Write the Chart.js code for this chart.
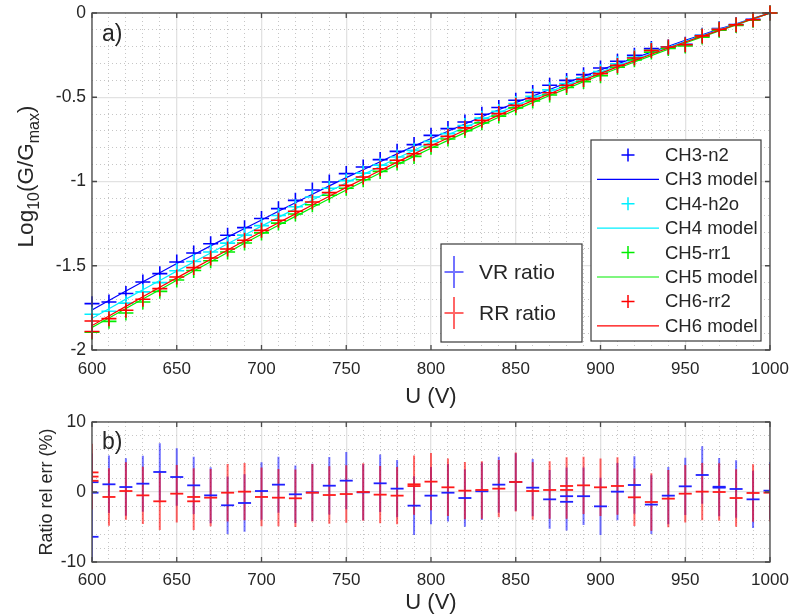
<!DOCTYPE html>
<html>
<head>
<meta charset="utf-8">
<script src="https://cdn.jsdelivr.net/npm/chart.js@4.4.1/dist/chart.umd.min.js"></script>
<style>
  body { margin: 0; background: #fff; }
  #wrap { position: relative; width: 792px; height: 616px; }
  #top { position: absolute; left: 0; top: 0; }
  #bot { position: absolute; left: 0; top: 410px; }
</style>
</head>
<body>
<div id="wrap">
  <canvas id="top" width="792" height="410" style="width:792px;height:410px"></canvas>
  <canvas id="bot" width="792" height="206" style="width:792px;height:206px"></canvas>
</div>
<script>
// ---- data ----
const voltages = [600, 610, 620, 630, 640, 650, 660, 670, 680, 690, 700, 710, 720, 730, 740, 750, 760, 770, 780, 790,
  800, 810, 820, 830, 840, 850, 860, 870, 880, 890, 900, 910, 920, 930, 940, 950, 960, 970, 980, 990, 1000];

const channelNames = ['CH3-n2', 'CH4-h2o', 'CH5-rr1', 'CH6-rr2'];
const modelNames = ['CH3 model', 'CH4 model', 'CH5 model', 'CH6 model'];

// log10(G/Gmax), measured
const ch3 = [-1.725, -1.715, -1.665, -1.596, -1.547, -1.478, -1.424, -1.369, -1.319, -1.274, -1.220, -1.161, -1.112, -1.050,
  -1.003, -0.953, -0.914, -0.870, -0.821, -0.781, -0.726, -0.686, -0.647, -0.601, -0.561, -0.518, -0.472, -0.429, -0.400,
  -0.366, -0.326, -0.286, -0.251, -0.211, -0.202, -0.186, -0.132, -0.093, -0.068, -0.038, 0];
const ch4 = [-1.788, -1.770, -1.722, -1.655, -1.600, -1.530, -1.475, -1.418, -1.366, -1.318, -1.262, -1.202, -1.150, -1.092,
  -1.040, -0.995, -0.950, -0.903, -0.855, -0.815, -0.762, -0.716, -0.668, -0.624, -0.584, -0.537, -0.494, -0.456, -0.418,
  -0.384, -0.348, -0.301, -0.262, -0.218, -0.204, -0.190, -0.134, -0.095, -0.070, -0.040, 0];
const ch5 = [-1.895, -1.830, -1.780, -1.715, -1.652, -1.585, -1.528, -1.470, -1.418, -1.365, -1.305, -1.247, -1.193, -1.138,
  -1.082, -1.040, -0.990, -0.940, -0.890, -0.851, -0.797, -0.748, -0.698, -0.652, -0.612, -0.563, -0.522, -0.487, -0.442,
  -0.407, -0.372, -0.322, -0.278, -0.232, -0.211, -0.196, -0.143, -0.102, -0.074, -0.043, 0];
const ch6 = [-1.828, -1.814, -1.764, -1.699, -1.636, -1.567, -1.511, -1.454, -1.401, -1.349, -1.290, -1.230, -1.177, -1.122,
  -1.066, -1.023, -0.973, -0.924, -0.874, -0.835, -0.781, -0.732, -0.682, -0.637, -0.597, -0.548, -0.508, -0.473, -0.429,
  -0.394, -0.360, -0.311, -0.267, -0.222, -0.202, -0.188, -0.136, -0.097, -0.070, -0.040, 0];
// second CH6 reading at 600 V
const ch6ExtraU = [600];
const ch6Extra = [-1.890];

// model curves
const ch3Model = [-1.762, -1.706, -1.650, -1.595, -1.541, -1.487, -1.435, -1.382, -1.330, -1.279, -1.228, -1.177, -1.126,
  -1.076, -1.026, -0.977, -0.930, -0.883, -0.836, -0.790, -0.745, -0.702, -0.659, -0.616, -0.574, -0.532, -0.493, -0.454,
  -0.415, -0.376, -0.338, -0.302, -0.267, -0.232, -0.197, -0.162, -0.129, -0.096, -0.064, -0.032, 0];
const ch4Model = [-1.812, -1.755, -1.698, -1.642, -1.587, -1.532, -1.478, -1.424, -1.370, -1.317, -1.265, -1.213, -1.161,
  -1.110, -1.059, -1.008, -0.959, -0.910, -0.862, -0.815, -0.768, -0.723, -0.679, -0.635, -0.592, -0.549, -0.508, -0.468,
  -0.428, -0.389, -0.350, -0.313, -0.276, -0.240, -0.204, -0.168, -0.134, -0.100, -0.066, -0.033, 0];
const ch5Model = [-1.866, -1.810, -1.754, -1.697, -1.642, -1.586, -1.531, -1.476, -1.421, -1.367, -1.313, -1.260, -1.207,
  -1.154, -1.102, -1.050, -1.000, -0.950, -0.900, -0.851, -0.803, -0.756, -0.710, -0.664, -0.619, -0.575, -0.532, -0.490,
  -0.449, -0.408, -0.368, -0.329, -0.291, -0.253, -0.215, -0.178, -0.142, -0.106, -0.071, -0.035, 0];
const ch6Model = [-1.855, -1.798, -1.741, -1.684, -1.628, -1.572, -1.517, -1.462, -1.407, -1.352, -1.298, -1.245, -1.192,
  -1.139, -1.087, -1.035, -0.985, -0.935, -0.885, -0.836, -0.788, -0.742, -0.696, -0.651, -0.606, -0.562, -0.520, -0.479,
  -0.438, -0.398, -0.358, -0.320, -0.283, -0.245, -0.208, -0.172, -0.137, -0.103, -0.068, -0.034, 0];

// ratio relative error (%)
const ratioNames = ['VR ratio', 'RR ratio'];
const vrRatio = [1.40, 1.10, 0.71, 1.19, 2.86, 2.14, 0.95, -0.48, -1.90, -1.57, 0.14, 1.05, -0.33, -0.05, 0.90, 1.62, -0.05,
  1.24, 0.48, -1.95, -0.52, -0.10, -0.86, 0.10, 1.05, 1.43, 0.62, -1.05, -0.60, -0.60, -2.05, 0.05, 1.00, -1.80, -0.52,
  0.81, 2.43, 0.62, 0.43, -1.05, 0.19];
const rrRatio = [2.80, -0.71, 0.14, -0.48, -1.33, -0.24, -0.71, -0.81, -0.10, 0.05, -0.71, -0.81, -0.90, -0.10, -0.43, -0.29,
  0.00, -0.38, -0.52, 1.10, 1.48, 0.67, 0.19, 0.29, 0.48, 1.43, 0.14, 0.29, 0.86, 0.95, 0.67, 0.86, -0.76, -1.43, -0.95,
  -0.24, 0.05, 0.00, -0.86, -0.14, -0.10];
const vrErr = [4.1, 4.1, 4.1, 4.0, 4.1, 4.1, 4.1, 4.0, 4.1, 4.1, 4.1, 4.0, 4.1, 4.1, 4.1, 4.1, 4.0, 4.1, 4.1, 4.2, 4.1, 4.1,
  4.1, 4.1, 4.0, 4.1, 4.1, 4.2, 4.1, 4.1, 4.1, 4.1, 4.1, 4.2, 4.1, 4.1, 4.1, 4.1, 4.1, 4.1, 4.1];
const rrErr = [4.1, 4.1, 4.1, 4.1, 4.1, 4.1, 4.1, 4.1, 4.1, 4.1, 4.2, 4.1, 4.1, 4.1, 4.1, 4.1, 4.1, 4.1, 4.1, 4.1, 4.1, 4.1,
  4.1, 4.1, 4.1, 4.2, 4.1, 4.1, 4.1, 4.1, 4.1, 4.1, 4.1, 4.1, 4.1, 4.1, 4.1, 4.1, 4.1, 4.1, 4.1];
// repeated readings at the same voltage
const vrExtraU = [600, 600, 880, 970];
const vrExtra = [-0.10, -6.40, -1.40, 0.75];
const vrExtraErr = [4.1, 4.1, 4.1, 4.1];
const rrExtraU = [600, 600, 660, 790, 880];
const rrExtra = [2.20, 1.60, -1.33, 0.85, 0.29];
const rrExtraErr = [4.1, 4.1, 4.1, 4.1, 4.1];

// ---- styling ----
const FONT = '"Liberation Sans", Arial, sans-serif';
const INK = '#262626';
const chColors = ['#0000ff', '#00f0ff', '#00ee00', '#ff0000'];
const ratioColors = ['rgba(0,0,255,0.55)', 'rgba(255,0,0,0.6)'];
const ratioMarkColors = ['#2020ff', '#ff1a1a'];

function pts(us, vs) {
  return us.map((u, i) => ({x: u, y: vs[i]}));
}
function errSegments(us, vs, es) {
  const out = [];
  us.forEach((u, i) => {
    out.push({x: u, y: vs[i] - es[i]}, {x: u, y: vs[i] + es[i]}, {x: u, y: null});
  });
  return out;
}

function drawRotated(ctx, x, y, parts) {
  ctx.save();
  ctx.translate(x, y);
  ctx.rotate(-Math.PI / 2);
  ctx.fillStyle = INK;
  ctx.textBaseline = 'alphabetic';
  ctx.textAlign = 'left';
  let total = 0;
  parts.forEach(p => { ctx.font = p.font; p.w = ctx.measureText(p.text).width; total += p.w; });
  let cx = -total / 2;
  parts.forEach(p => { ctx.font = p.font; ctx.fillText(p.text, cx, p.dy || 0); cx += p.w; });
  ctx.restore();
}

function drawLegend(ctx, a, L) {
  const left = a.right - L.right - L.width;
  const top = a.bottom - L.bottom - L.height;
  ctx.save();
  ctx.fillStyle = '#fff';
  ctx.fillRect(left, top, L.width, L.height);
  ctx.strokeStyle = '#3a3a3a';
  ctx.lineWidth = 1.2;
  ctx.strokeRect(left, top, L.width, L.height);
  ctx.font = L.fontSize + 'px ' + FONT;
  ctx.textBaseline = 'middle';
  ctx.textAlign = 'left';
  L.items.forEach((it, i) => {
    const cy = top + L.first + i * L.gap;
    const mx = left + L.markX;
    ctx.strokeStyle = it.color;
    ctx.beginPath();
    if (it.kind === 'plus') {
      ctx.lineWidth = 1.5;
      ctx.moveTo(mx - 6.5, cy); ctx.lineTo(mx + 6.5, cy);
      ctx.moveTo(mx, cy - 6.5); ctx.lineTo(mx, cy + 6.5);
    } else if (it.kind === 'line') {
      ctx.lineWidth = 1.2;
      ctx.moveTo(left + L.lineFrom, cy); ctx.lineTo(left + L.lineTo, cy);
    } else {
      ctx.lineWidth = 2;
      ctx.moveTo(mx - 9.5, cy); ctx.lineTo(mx + 9.5, cy);
      ctx.moveTo(mx, cy - 16); ctx.lineTo(mx, cy + 16);
    }
    ctx.stroke();
    ctx.fillStyle = INK;
    ctx.fillText(it.text, left + L.textX, cy + 1);
  });
  ctx.restore();
}

const framePlugin = {
  id: 'frame',
  afterDatasetsDraw(chart, args, o) {
    const {ctx, chartArea: a} = chart;
    const sx = chart.scales.x, sy = chart.scales.y;
    ctx.save();
    ctx.strokeStyle = '#4a4a4a';
    ctx.lineWidth = 1.3;
    ctx.strokeRect(a.left, a.top, a.width, a.height);
    ctx.beginPath();
    sx.ticks.forEach(t => {
      const px = sx.getPixelForValue(t.value);
      ctx.moveTo(px, a.bottom); ctx.lineTo(px, a.bottom - 5);
      ctx.moveTo(px, a.top); ctx.lineTo(px, a.top + 5);
    });
    sy.ticks.forEach(t => {
      const py = sy.getPixelForValue(t.value);
      ctx.moveTo(a.left, py); ctx.lineTo(a.left + 5, py);
      ctx.moveTo(a.right, py); ctx.lineTo(a.right - 5, py);
    });
    ctx.stroke();
    ctx.restore();
  },
  afterDraw(chart, args, o) {
    const {ctx, chartArea: a} = chart;
    ctx.save();
    ctx.fillStyle = INK;
    ctx.font = '23px ' + FONT;
    ctx.textBaseline = 'alphabetic';
    ctx.fillText(o.label, a.left + 10, a.top + o.labelDy);
    ctx.restore();
    drawRotated(ctx, o.titleX, (a.top + a.bottom) / 2 + o.titleDy, o.title);
    (o.legends || []).forEach(L => drawLegend(ctx, a, L));
  }
};

function fmt(v) {
  return String(parseFloat(Number(v).toFixed(3)));
}
// tick gap is made with an invisible tick mark so the label padding does not shrink the plot area
function axisX(height, gap) {
  return {
    type: 'linear', min: 600, max: 1000, position: 'bottom',
    ticks: {stepSize: 50, padding: 0, color: INK, font: {size: 17, family: FONT}, maxRotation: 0, autoSkip: false,
      callback: fmt},
    grid: {color: '#e2e2e2', lineWidth: 1.3, drawTicks: true, tickLength: gap, tickColor: 'rgba(0,0,0,0)'},
    border: {display: false},
    title: {display: true, text: 'U (V)', color: INK, font: {size: 22, family: FONT}, padding: 0},
    afterFit(s) { s.height = height; }
  };
}
function minorAxis(axis, min, max, step, major) {
  return {
    type: 'linear', axis: axis, min: min, max: max, position: axis === 'x' ? 'bottom' : 'left',
    ticks: {display: false, stepSize: step, padding: 0},
    grid: {
      drawTicks: false, lineWidth: 1,
      color: c => Math.abs(c.tick.value / major - Math.round(c.tick.value / major)) < 1e-6 ? 'rgba(0,0,0,0)' : '#c6c6c6'
    },
    border: {display: false, dash: [1, 3]},
    afterFit(s) { if (axis === 'x') s.height = 0; else s.width = 0; }
  };
}
function axisY(min, max, step) {
  return {
    type: 'linear', min: min, max: max, position: 'left',
    ticks: {stepSize: step, padding: 0, color: INK, font: {size: 17.5, family: FONT}, callback: fmt},
    grid: {color: '#e2e2e2', lineWidth: 1.3, drawTicks: true, tickLength: 6, tickColor: 'rgba(0,0,0,0)'},
    border: {display: false},
    afterFit(s) { s.width = 92; }
  };
}

// ---- top panel ----
const chSeries = [ch3, ch4, ch5, ch6];
const modelSeries = [ch3Model, ch4Model, ch5Model, ch6Model];
const topSets = [];
chSeries.forEach((vals, i) => {
  topSets.push({
    label: channelNames[i], data: pts(voltages, vals), showLine: false,
    pointStyle: 'cross', pointRadius: 7.5, pointBorderWidth: 1.6, borderColor: chColors[i],
    clip: false, order: 20 - 2 * i
  });
  topSets.push({
    label: modelNames[i], data: pts(voltages, modelSeries[i]), showLine: true, pointRadius: 0,
    borderColor: chColors[i], borderWidth: 1.2, fill: false, order: 19 - 2 * i
  });
});
topSets.push({
  label: channelNames[3] + ' repeat', data: pts(ch6ExtraU, ch6Extra), showLine: false,
  pointStyle: 'cross', pointRadius: 7.5, pointBorderWidth: 1.6, borderColor: chColors[3], clip: false, order: 1
});

const legendChannels = [];
channelNames.forEach((n, i) => {
  legendChannels.push({kind: 'plus', color: chColors[i], text: n});
  legendChannels.push({kind: 'line', color: chColors[i], text: modelNames[i]});
});

new Chart(document.getElementById('top'), {
  type: 'scatter',
  data: {datasets: topSets},
  options: {
    responsive: false, animation: false,
    layout: {padding: {left: 0, right: 22, top: 13, bottom: 0}},
    plugins: {
      legend: {display: false}, tooltip: {enabled: false},
      frame: {
        label: 'a)', labelDy: 28, titleX: 33, titleDy: -5,
        title: [
          {text: 'Log', font: '22.5px ' + FONT},
          {text: '10', font: '16px ' + FONT, dy: 6},
          {text: '(G/G', font: '22.5px ' + FONT},
          {text: 'max', font: '16px ' + FONT, dy: 6},
          {text: ')', font: '22.5px ' + FONT}
        ],
        legends: [
          {right: 9, bottom: 9, width: 170, height: 201, fontSize: 18.5, first: 15, gap: 24.4,
           markX: 37, lineFrom: 6, lineTo: 68, textX: 74, items: legendChannels},
          {right: 188, bottom: 8, width: 141, height: 98, fontSize: 21, first: 28, gap: 41,
           markX: 13, textX: 38,
           items: ratioNames.map((n, i) => ({kind: 'err', color: ratioColors[i], text: n}))}
        ]
      }
    },
    scales: {
      x: axisX(60, 9),
      xm: minorAxis('x', 600, 1000, 10, 50),
      y: axisY(-2, 0, 0.5),
      ym: minorAxis('y', -2, 0, 0.1, 0.5)
    }
  },
  plugins: [framePlugin]
});

// ---- bottom panel ----
const vrU = voltages.concat(vrExtraU), vrV = vrRatio.concat(vrExtra), vrE = vrErr.concat(vrExtraErr);
const rrU = voltages.concat(rrExtraU), rrV = rrRatio.concat(rrExtra), rrE = rrErr.concat(rrExtraErr);

new Chart(document.getElementById('bot'), {
  type: 'scatter',
  data: {
    datasets: [
      {label: 'VR err', data: errSegments(vrU, vrV, vrE), showLine: true, spanGaps: false, pointRadius: 0,
       borderColor: ratioColors[0], borderWidth: 2, order: 4},
      {label: 'RR err', data: errSegments(rrU, rrV, rrE), showLine: true, spanGaps: false, pointRadius: 0,
       borderColor: ratioColors[1], borderWidth: 2, order: 3},
      {label: ratioNames[0], data: pts(vrU, vrV), showLine: false, pointStyle: 'line', pointRadius: 6.5,
       pointBorderWidth: 1.8, borderColor: ratioMarkColors[0], order: 2},
      {label: ratioNames[1], data: pts(rrU, rrV), showLine: false, pointStyle: 'line', pointRadius: 6.5,
       pointBorderWidth: 1.8, borderColor: ratioMarkColors[1], order: 1}
    ]
  },
  options: {
    responsive: false, animation: false,
    layout: {padding: {left: 0, right: 22, top: 12, bottom: 0}},
    plugins: {
      legend: {display: false}, tooltip: {enabled: false},
      frame: {
        label: 'b)', labelDy: 27, titleX: 52, titleDy: 0,
        title: [{text: 'Ratio rel err (%)', font: '18px ' + FONT}]
      }
    },
    scales: {
      x: axisX(54, 8),
      xm: minorAxis('x', 600, 1000, 10, 50),
      y: axisY(-10, 10, 10),
      ym: minorAxis('y', -10, 10, 2, 10)
    }
  },
  plugins: [framePlugin]
});
</script>
</body>
</html>
